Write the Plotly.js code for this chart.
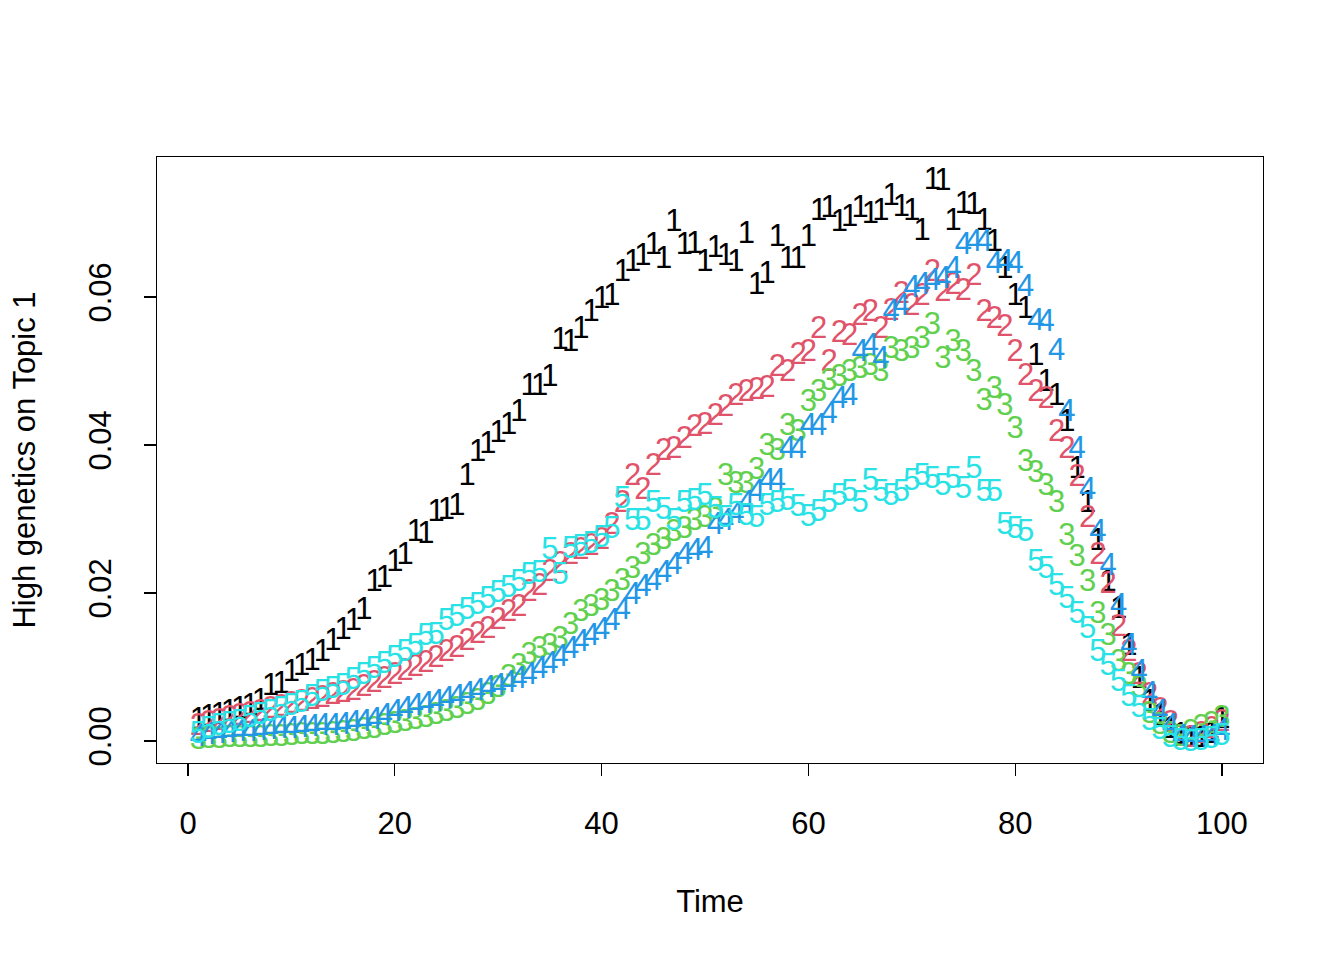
<!DOCTYPE html>
<html>
<head>
<meta charset="utf-8">
<script src="https://cdn.plot.ly/plotly-3.0.1.min.js"></script>
<style>html,body{margin:0;padding:0;background:#fff;}#chart{width:1344px;height:960px;}</style>
</head>
<body>
<div id="chart"></div>
<script>
var time = [];
for (var i = 1; i <= 100; i++) time.push(i);

var topic1 = [0.0027,0.0031,0.0034,0.0038,0.0041,0.0046,0.0053,0.0072,0.0076,0.0092,
0.0100,0.0107,0.0118,0.0134,0.0148,0.0160,0.0175,0.0213,0.0218,0.0240,
0.0249,0.0281,0.0278,0.0308,0.0310,0.0316,0.0357,0.0389,0.0400,0.0415,
0.0425,0.0443,0.0478,0.0478,0.0490,0.0540,0.0538,0.0555,0.0578,0.0596,
0.0600,0.0632,0.0646,0.0654,0.0668,0.0650,0.0700,0.0668,0.0670,0.0646,
0.0664,0.0654,0.0646,0.0684,0.0614,0.0630,0.0680,0.0650,0.0650,0.0680,
0.0714,0.0718,0.0700,0.0707,0.0718,0.0711,0.0715,0.0735,0.0720,0.0715,
0.0688,0.0757,0.0755,0.0701,0.0724,0.0722,0.0701,0.0673,0.0636,0.0600,
0.0582,0.0519,0.0484,0.0465,0.0430,0.0366,0.0320,0.0268,0.0213,0.0177,
0.0127,0.0082,0.0051,0.0032,0.0015,0.0006,0.0002,0.0003,0.0008,0.0028];

var topic2 = [0.0018,0.0022,0.0026,0.0029,0.0032,0.0035,0.0038,0.0041,0.0044,0.0048,
0.0051,0.0054,0.0057,0.0060,0.0063,0.0066,0.0071,0.0077,0.0082,0.0087,
0.0093,0.0098,0.0104,0.0110,0.0118,0.0124,0.0134,0.0143,0.0150,0.0162,
0.0172,0.0180,0.0200,0.0208,0.0227,0.0237,0.0250,0.0257,0.0262,0.0270,
0.0290,0.0320,0.0357,0.0337,0.0370,0.0390,0.0393,0.0407,0.0423,0.0425,
0.0437,0.0450,0.0465,0.0470,0.0472,0.0475,0.0504,0.0497,0.0520,0.0524,
0.0555,0.0510,0.0550,0.0546,0.0573,0.0578,0.0555,0.0580,0.0603,0.0586,
0.0600,0.0632,0.0605,0.0614,0.0607,0.0627,0.0578,0.0569,0.0558,0.0524,
0.0492,0.0470,0.0460,0.0416,0.0393,0.0355,0.0300,0.0249,0.0211,0.0153,
0.0119,0.0087,0.0060,0.0040,0.0022,0.0004,0.0003,0.0008,0.0015,0.0024];

var topic3 = [0.0000,0.0001,0.0001,0.0002,0.0002,0.0003,0.0003,0.0004,0.0004,0.0005,
0.0006,0.0006,0.0007,0.0008,0.0009,0.0011,0.0013,0.0015,0.0018,0.0021,
0.0024,0.0027,0.0030,0.0034,0.0038,0.0042,0.0047,0.0052,0.0060,0.0070,
0.0085,0.0100,0.0114,0.0122,0.0127,0.0136,0.0155,0.0173,0.0180,0.0188,
0.0200,0.0215,0.0231,0.0250,0.0262,0.0270,0.0281,0.0285,0.0295,0.0300,
0.0310,0.0357,0.0345,0.0345,0.0365,0.0397,0.0390,0.0424,0.0416,0.0457,
0.0470,0.0485,0.0490,0.0497,0.0501,0.0505,0.0497,0.0528,0.0524,0.0528,
0.0542,0.0560,0.0515,0.0538,0.0524,0.0497,0.0458,0.0474,0.0451,0.0420,
0.0376,0.0360,0.0343,0.0320,0.0276,0.0247,0.0213,0.0170,0.0140,0.0105,
0.0087,0.0070,0.0035,0.0020,0.0008,0.0004,0.0010,0.0017,0.0021,0.0029];

var topic4 = [0.0004,0.0006,0.0008,0.0009,0.0010,0.0011,0.0012,0.0013,0.0014,0.0015,
0.0016,0.0017,0.0018,0.0019,0.0020,0.0022,0.0024,0.0027,0.0032,0.0037,
0.0041,0.0045,0.0048,0.0051,0.0055,0.0058,0.0062,0.0066,0.0070,0.0073,
0.0077,0.0082,0.0088,0.0095,0.0103,0.0112,0.0122,0.0132,0.0140,0.0148,
0.0160,0.0176,0.0195,0.0207,0.0215,0.0225,0.0236,0.0249,0.0255,0.0258,
0.0290,0.0296,0.0305,0.0320,0.0335,0.0349,0.0350,0.0393,0.0393,0.0424,
0.0424,0.0440,0.0460,0.0465,0.0524,0.0532,0.0515,0.0578,0.0586,0.0610,
0.0614,0.0620,0.0623,0.0636,0.0668,0.0673,0.0673,0.0643,0.0646,0.0643,
0.0612,0.0566,0.0565,0.0526,0.0443,0.0393,0.0337,0.0281,0.0235,0.0181,
0.0127,0.0092,0.0062,0.0038,0.0019,0.0004,0.0003,0.0003,0.0004,0.0012];

var topic5 = [0.0008,0.0015,0.0018,0.0021,0.0024,0.0030,0.0034,0.0038,0.0042,0.0046,
0.0049,0.0058,0.0064,0.0069,0.0073,0.0081,0.0087,0.0096,0.0103,0.0110,
0.0119,0.0127,0.0140,0.0141,0.0160,0.0166,0.0175,0.0182,0.0190,0.0198,
0.0205,0.0213,0.0222,0.0225,0.0257,0.0222,0.0258,0.0260,0.0265,0.0272,
0.0285,0.0326,0.0295,0.0295,0.0320,0.0310,0.0295,0.0320,0.0322,0.0330,
0.0312,0.0299,0.0316,0.0303,0.0299,0.0316,0.0320,0.0323,0.0315,0.0301,
0.0308,0.0320,0.0330,0.0335,0.0320,0.0349,0.0335,0.0330,0.0335,0.0349,
0.0357,0.0353,0.0343,0.0353,0.0339,0.0366,0.0335,0.0335,0.0290,0.0285,
0.0281,0.0240,0.0231,0.0208,0.0190,0.0170,0.0150,0.0119,0.0100,0.0078,
0.0058,0.0043,0.0026,0.0013,0.0003,-0.0002,-0.0003,-0.0002,0.0001,0.0005];

var seriesLabels = ["1","2","3","4","5"];
var seriesColors = ["#000000","#DF536B","#61D04F","#2297E6","#28E2E5"];
var seriesValues = [topic1, topic2, topic3, topic4, topic5];

var xTicks = [0,20,40,60,80,100];
var yTicks = [0,0.02,0.04,0.06];
var yTickText = ["0.00","0.02","0.04","0.06"];

var traces = seriesValues.map(function(vals, k){
  return {
    x: time, y: vals, type: "scatter", mode: "text",
    text: vals.map(function(){return seriesLabels[k];}),
    textposition: "middle center",
    textfont: {family: "Liberation Sans, Arial, sans-serif", size: 31, color: seriesColors[k]},
    hoverinfo: "skip", showlegend: false, cliponaxis: false
  };
});

var fontBase = {family: "Liberation Sans, Arial, sans-serif", size: 31, color: "#000"};

var layout = {
  width: 1344, height: 960,
  margin: {l: 157, r: 81, t: 157, b: 197, pad: 0},
  paper_bgcolor: "#fff", plot_bgcolor: "#fff",
  font: fontBase,
  showlegend: false,
  hovermode: false,
  xaxis: {
    range: [-2.998, 103.97], tickvals: xTicks, ticktext: xTicks.map(String),
    ticks: "outside", ticklen: 12, tickwidth: 1.3, tickcolor: "#000",
    showline: true, mirror: true, linecolor: "#000", linewidth: 1.3,
    showgrid: false, zeroline: false, ticklabelstandoff: 20,
    tickfont: fontBase,
    title: {text: "Time", font: fontBase, standoff: 50}
  },
  yaxis: {
    range: [-0.002973, 0.07892], tickvals: yTicks, ticktext: yTickText,
    ticks: "outside", ticklen: 12, tickwidth: 1.3, tickcolor: "#000",
    showline: true, mirror: true, linecolor: "#000", linewidth: 1.3,
    showgrid: false, zeroline: false, tickangle: -90, ticklabelstandoff: 20,
    tickfont: fontBase,
    title: {text: "High genetics on Topic 1", font: fontBase, standoff: 38}
  }
};

Plotly.newPlot("chart", traces, layout, {displayModeBar: false, staticPlot: true});
</script>
</body>
</html>
